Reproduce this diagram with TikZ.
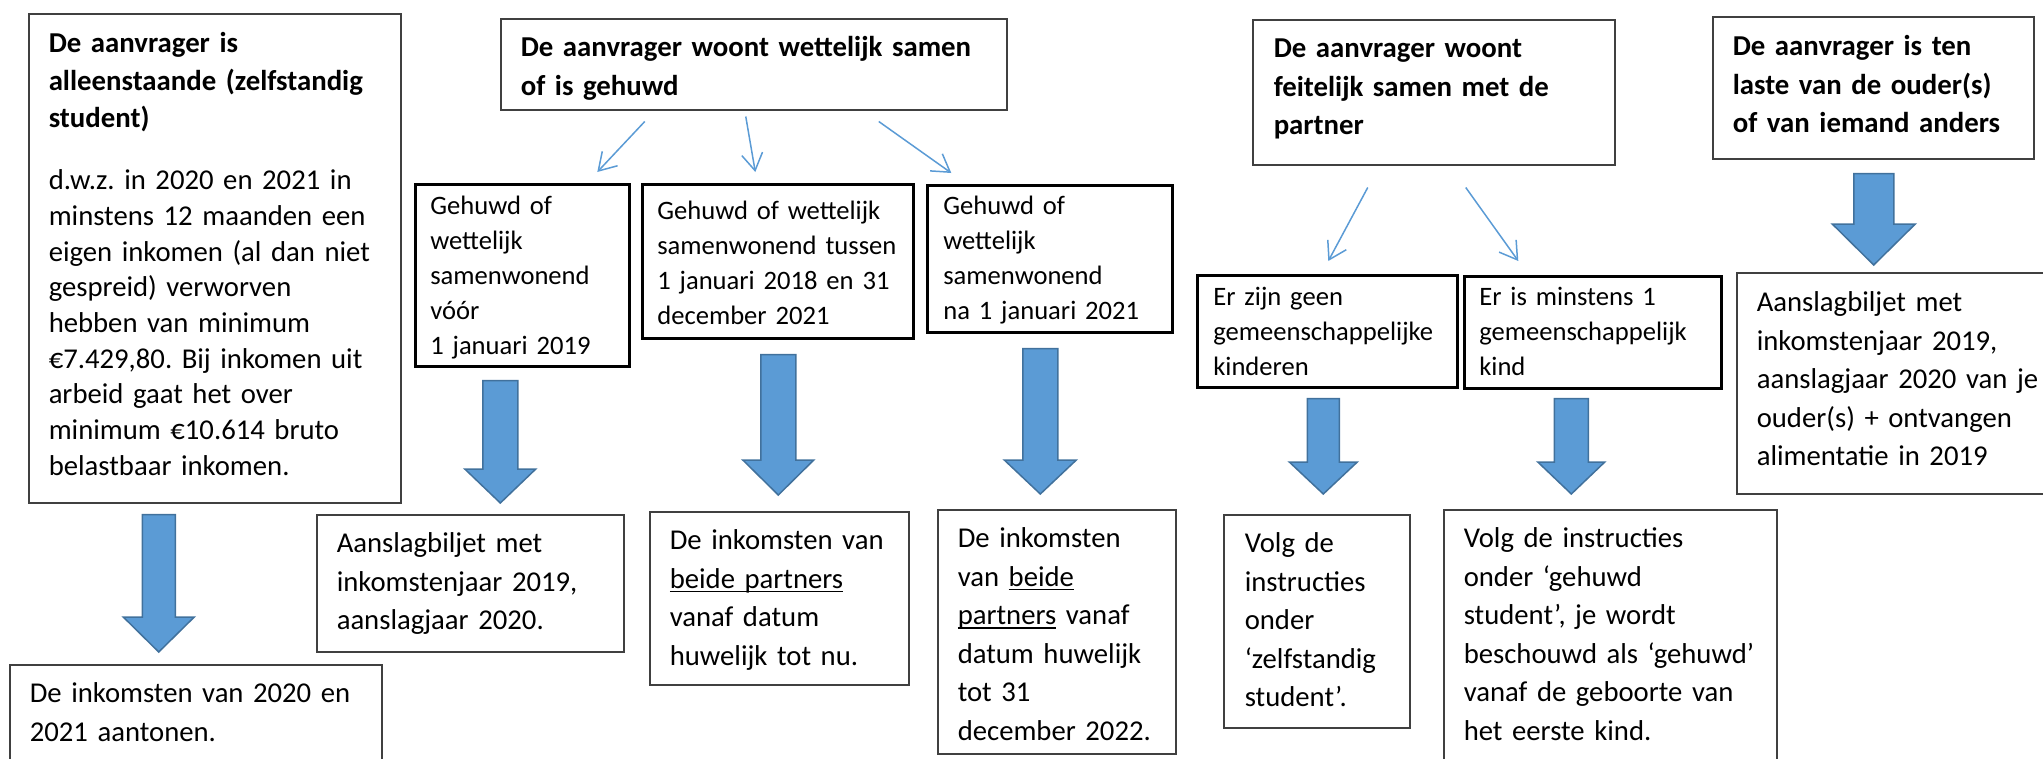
\documentclass[tikz,border=0pt]{standalone}
\usepackage{fontspec}
\setmainfont{Carlito}
\usetikzlibrary{arrows.meta, calc}
\definecolor{arrowblue}{RGB}{91,155,213}
\definecolor{arrowedge}{RGB}{65,113,156}
\setlength{\parindent}{0pt}
\setlength{\parskip}{0pt}
\frenchspacing
\newsavebox{\ulbox}
\newcommand{\onderlijn}[1]{\leavevmode\sbox\ulbox{#1}\rlap{\rule[-4pt]{\wd\ulbox}{1.4pt}}\usebox\ulbox}

\begin{document}
\begin{tikzpicture}[
        x=1pt, y=-1pt,
        box/.style={draw=black!75, line width=1.5pt, anchor=north west, inner ysep=0pt, align=left,
            execute at begin node={\rightskip=0pt plus 1fil minus 60pt}},
        boxk/.style={box, draw=black, line width=2.6pt},
        ttl/.style={font=\bfseries\fontsize{28.8}{38.5}\selectfont},
        txt/.style={font=\fontsize{28.7}{38.5}\selectfont},
        sml/.style={font=\fontsize{26.6}{35}\selectfont},
        lnk/.style={draw=arrowblue, line width=1.5pt, -{Straight Barb[length=17pt, width=21pt]}},
        fat/.style n args={3}{fill=arrowblue, draw=arrowedge, line width=1.5pt,
            to path={let \p1=(\tikztostart), \p2=(\tikztotarget) in
                ({\x1-#1},\y1) -- ({\x1+#1},\y1) -- ({\x1+#1},{\y2+#3}) -- ({\x1+#2},{\y2+#3})
                -- (\x1,\y2) -- ({\x1-#2},{\y2+#3}) -- ({\x1-#1},{\y2+#3}) -- cycle}}
    ]

    % page frame, in pixels of the original
    \useasboundingbox (0,0) rectangle (2043,758);
    \clip (0,0) rectangle (2043,758);

    % === ALLEENSTAANDE ===
    \node[box, inner xsep=20pt, text width=332pt, text height=39pt, text depth=450pt,
          font=\fontsize{28.7}{35.7}\selectfont] (alleen) at (28,13)
        {{\bfseries\fontsize{28.8}{37.5}\selectfont De aanvrager is\\alleenstaande (zelfstandig\\student)\par}\vspace{26.3pt}%
         d.w.z. in 2020 en 2021 in\\minstens 12 maanden een\\eigen inkomen (al dan niet\\gespreid) verworven\\hebben van minimum\\%
         €7.429,80. Bij inkomen uit\\arbeid gaat het over\\minimum €10.614 bruto\\belastbaar inkomen.};

    \node[box, txt, inner xsep=20pt, text width=332pt, text height=38pt, text depth=78pt] (bewijs) at (9,664)
        {De inkomsten van 2020 en\\2021 aantonen.};

    \path[fat={16.5pt}{35.5pt}{35pt}] ([xshift=-56pt, yshift=-11pt]alleen.south) to ([yshift=12pt]bewijs.north);

    % === WETTELIJK SAMENWONEND OF GEHUWD ===
    \node[box, ttl, inner xsep=20pt, text width=466pt, text height=38pt, text depth=53pt] (wettelijk) at (500,18)
        {De aanvrager woont wettelijk samen\\of is gehuwd};

    \node[boxk, sml, inner xsep=15pt, text width=184pt, text height=30pt, text depth=152pt] (voor) at (414,183)
        {Gehuwd of\\wettelijk\\samenwonend\\vóór\\1 januari 2019};
    \node[boxk, sml, inner xsep=15pt, text width=241pt, text height=35pt, text depth=119pt] (tussen) at (641,183)
        {Gehuwd of wettelijk\\samenwonend tussen\\1 januari 2018 en 31\\december 2021};
    \node[boxk, sml, inner xsep=16pt, text width=213pt, text height=29pt, text depth=118pt] (na) at (926,184)
        {Gehuwd of\\wettelijk\\samenwonend\\na 1 januari 2021};

    \draw[lnk] ([xshift=-109pt, yshift=-11pt]wettelijk.south) -- ([xshift=75pt, yshift=11pt]voor.north);
    \draw[lnk] ([xshift=-8pt, yshift=-6pt]wettelijk.south) -- ([xshift=-22.5pt, yshift=11pt]tussen.north);
    \draw[lnk] ([xshift=125pt, yshift=-11pt]wettelijk.south) -- ([xshift=-98.5pt, yshift=11pt]na.north);

    \node[box, txt, inner xsep=20pt, text width=267pt, text height=38pt, text depth=99pt] (aanslag) at (316,514)
        {Aanslagbiljet met\\inkomstenjaar 2019,\\aanslagjaar 2020.};
    \node[box, txt, inner xsep=20pt, text width=219pt, text height=38pt, text depth=135pt] (totnu) at (649,511)
        {De inkomsten van\\\onderlijn{beide partners}\\vanaf datum\\huwelijk tot nu.};
    \node[box, txt, inner xsep=20pt, text width=198pt, text height=38pt, text depth=206pt] (tot2022) at (937,509)
        {De inkomsten\\van \onderlijn{beide}\\\onderlijn{partners} vanaf\\datum huwelijk\\tot 31\\december 2022.};

    \path[fat={17.5pt}{35.5pt}{34pt}] ([xshift=-22pt, yshift=-13pt]voor.south) to ([yshift=11pt]aanslag.north);
    \path[fat={17.5pt}{35.5pt}{35pt}] ([xshift=0.5pt, yshift=-15pt]tussen.south) to ([yshift=16pt]totnu.north);
    \path[fat={17.5pt}{36pt}{34pt}] ([xshift=-9.5pt, yshift=-15pt]na.south) to ([yshift=15pt]tot2022.north);

    % === FEITELIJK SAMENWONEND ===
    \node[box, ttl, inner xsep=21pt, text width=320pt, text height=38pt, text depth=107pt] (feitelijk) at (1252,19)
        {De aanvrager woont\\feitelijk samen met de\\partner};

    \node[boxk, sml, inner xsep=16pt, text width=228pt, text height=30pt, text depth=82pt] (geenkind) at (1196,274)
        {Er zijn geen\\gemeenschappelijke\\kinderen};
    \node[boxk, sml, inner xsep=15pt, text width=227pt, text height=29pt, text depth=83pt] (welkind) at (1463,275)
        {Er is minstens 1\\gemeenschappelijk\\kind};

    \draw[lnk] ([xshift=-66pt, yshift=-22pt]feitelijk.south) -- ([xshift=1pt, yshift=13pt]geenkind.north);
    \draw[lnk] ([xshift=32pt, yshift=-22pt]feitelijk.south) -- ([xshift=-74.5pt, yshift=14pt]welkind.north);

    \node[box, txt, inner xsep=21pt, text width=144pt, text height=38pt, text depth=175pt] (zelf) at (1223,514)
        {Volg de\\instructies\\onder\\‘zelfstandig\\student’.};
    \node[box, txt, inner xsep=20pt, text width=293pt, text height=38pt, text depth=233pt] (gehuwd) at (1443,509)
        {Volg de instructies\\onder ‘gehuwd\\student’, je wordt\\beschouwd als ‘gehuwd’\\vanaf de geboorte van\\het eerste kind.};

    \path[fat={16pt}{34pt}{32pt}] ([xshift=-4pt, yshift=-10pt]geenkind.south) to ([yshift=20pt]zelf.north);
    \path[fat={17pt}{33.5pt}{32pt}] ([xshift=-21.5pt, yshift=-9pt]welkind.south) to ([yshift=15pt]gehuwd.north);

    % === TEN LASTE ===
    \node[box, ttl, inner xsep=20pt, text width=281pt, text height=39pt, text depth=103pt] (tenlaste) at (1712,16)
        {De aanvrager is ten\\laste van de ouder(s)\\of van iemand anders};
    \node[box, txt, inner xsep=20pt, text width=284pt, text height=39pt, text depth=182pt] (ouders) at (1736,272)
        {Aanslagbiljet met\\inkomstenjaar 2019,\\aanslagjaar 2020 van je\\ouder(s) + ontvangen\\alimentatie in 2019};

    \path[fat={20pt}{41.5pt}{41pt}] ([xshift=0.5pt, yshift=-14pt]tenlaste.south) to ([yshift=7pt]ouders.north);

\end{tikzpicture}
\end{document}
